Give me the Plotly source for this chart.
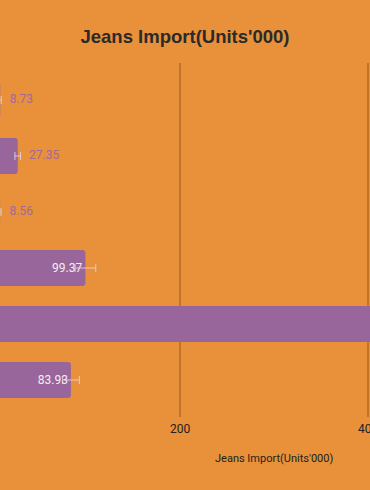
import plotly.graph_objects as go

categories = ["Bangladesh", "Pakistan", "Sri Lanka", "India", "China", "Turkey"]
values = [8.73, 27.35, 8.56, 99.37, 520.0, 83.93]
errors = [1.0, 3.0, 1.0, 11.0, 55.0, 9.0]
tick_values = [200, 400]
tick_labels = ["200", "400"]

BG = "#E8913A"
BAR = "#98669B"

inside_text = [f"{v:.2f}" if v > 50 else "" for v in values]
out_x = [v + e for v, e in zip(values, errors) if v <= 50]
out_y = [c for c, v in zip(categories, values) if v <= 50]
out_t = [f"{v:.2f}" for v in values if v <= 50]

fig = go.Figure()
fig.add_trace(go.Bar(
    y=categories, x=values, orientation="h",
    marker=dict(color=BAR, cornerradius=3, line=dict(width=0)),
    error_x=dict(type="data", array=errors, symmetric=True,
                 color="rgba(225,210,225,0.9)", thickness=1, width=4),
    text=inside_text, textposition="inside", insidetextanchor="end",
    textfont=dict(family="Roboto", size=12, color="#F4EEF4"),
    cliponaxis=True, showlegend=False, hoverinfo="skip",
))
fig.add_trace(go.Scatter(
    y=out_y, x=out_x, mode="markers+text",
    marker=dict(size=12, opacity=0),
    text=out_t, textposition="middle right",
    textfont=dict(family="Roboto", size=12, color="#A4679A"),
    showlegend=False, hoverinfo="skip", cliponaxis=False,
))

fig.update_layout(
    width=370, height=490,
    paper_bgcolor=BG, plot_bgcolor=BG,
    margin=dict(l=0, r=0, t=63, b=73),
    bargap=0.36,
    title=dict(text="<b>Jeans Import(Units'000)</b>", x=0.5, xanchor="center",
               y=1 - 37 / 490, yanchor="middle",
               font=dict(family="Liberation Sans, Arial", size=18.5, color="#2a2a2a")),
    xaxis=dict(range=[8.5, 402.1], tickvals=tick_values, ticktext=tick_labels,
               showgrid=True, gridcolor="#C0742A", gridwidth=1.5, zeroline=False,
               showline=False, ticks="", ticklabeloverflow="allow", automargin=False,
               ticklabelstandoff=3,
               tickfont=dict(family="Roboto", size=12, color="#222222")),
    yaxis=dict(range=[5.66, -0.66], showticklabels=False, showgrid=False,
               zeroline=False, showline=False, ticks="", automargin=False),
    annotations=[dict(text="Jeans Import(Units'000)", xref="paper", yref="paper",
                      x=274 / 370, y=-(458 - 417) / (417 - 63), xanchor="center",
                      yanchor="middle", showarrow=False,
                      font=dict(family="Roboto", size=11, color="#222222"))],
)

fig.write_html("out.html", config={"displayModeBar": False},
               post_script="document.body.style.margin='0px';document.body.style.overflow='hidden';")
